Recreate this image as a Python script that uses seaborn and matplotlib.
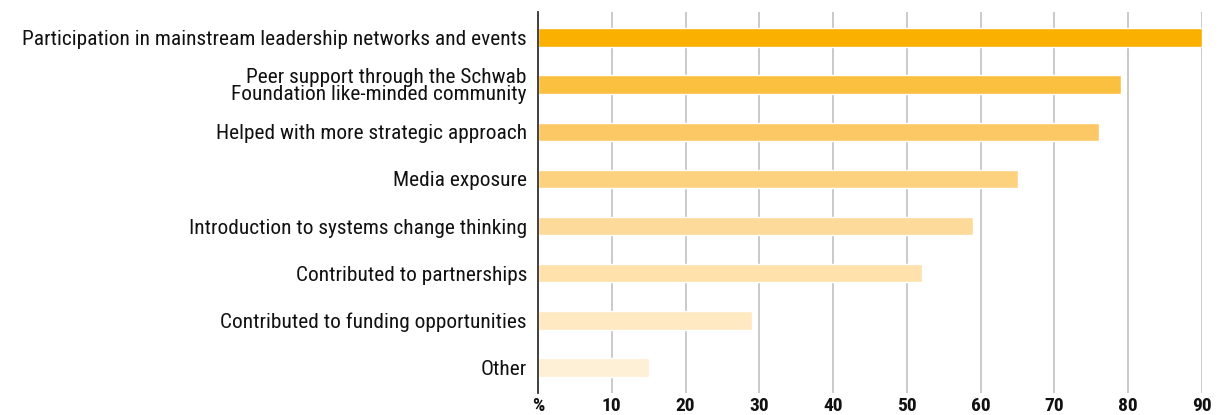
import matplotlib
matplotlib.use("Agg")
import matplotlib.pyplot as plt
from matplotlib import font_manager
import seaborn as sns
import pandas as pd

categories = [
    "Participation in mainstream leadership networks and events",
    "Peer support through the Schwab\nFoundation like-minded community",
    "Helped with more strategic approach",
    "Media exposure",
    "Introduction to systems change thinking",
    "Contributed to partnerships",
    "Contributed to funding opportunities",
    "Other",
]
values = [90, 79, 76, 65, 59, 52, 29, 15]
colors = ["#F9B000", "#FBC040", "#FCC866", "#FDD27F", "#FDDA9A", "#FEE1AB", "#FEE9C2", "#FEF0D7"]
tick_values = [0, 10, 20, 30, 40, 50, 60, 70, 80, 90]
tick_labels = ["%", "10", "20", "30", "40", "50", "60", "70", "80", "90"]

sns.set_style("white")

available = {f.name for f in font_manager.fontManager.ttflist}
family = "DejaVu Sans"
for cand in ["Liberation Sans Narrow", "DejaVu Sans Condensed", "Roboto Condensed", "Open Sans Condensed"]:
    if cand in available:
        family = cand
        break
plt.rcParams["font.family"] = [family, "DejaVu Sans"]

df = pd.DataFrame({"category": categories, "value": values})

fig = plt.figure(figsize=(12.3, 4.15), dpi=100)
ax = fig.add_axes([538 / 1230, 22 / 415, (1202 - 538) / 1230, (393 - 12) / 415])

sns.barplot(data=df, x="value", y="category", hue="category", palette=colors,
            orient="h", width=0.4, legend=False, ax=ax, saturation=1, zorder=3)

ax.set_xlim(0, 90)
ax.set_ylim(7.55, -0.55)
ax.set_xticks(tick_values)
ax.set_xticklabels(tick_labels, fontsize=14, fontweight="bold", color="#111111")
ax.tick_params(axis="x", length=0, pad=3)
ax.tick_params(axis="y", length=0, pad=8, labelsize=15.4, labelcolor="#111111")
for lbl in ax.get_yticklabels():
    lbl.set_linespacing(0.85)
ax.xaxis.grid(True, color="#c6c6c6", linewidth=1.3, zorder=0)
ax.yaxis.grid(False)
ax.set_axisbelow(True)
for s in ["top", "right", "bottom"]:
    ax.spines[s].set_visible(False)
ax.spines["left"].set_color("#333333")
ax.spines["left"].set_linewidth(1.3)
ax.spines["left"].set_zorder(5)
ax.set_xlabel("")
ax.set_ylabel("")

fig.savefig("out.png", dpi=100)
